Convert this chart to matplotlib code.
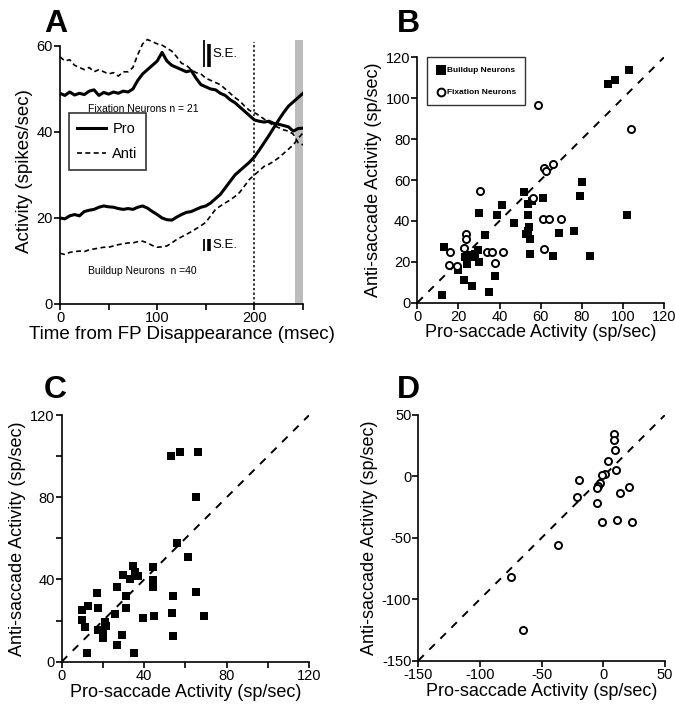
import numpy as np
import matplotlib.pyplot as plt

plt.rcParams['font.family'] = ['Liberation Sans', 'DejaVu Sans']
plt.rcParams['font.size'] = 10
plt.rcParams['axes.unicode_minus'] = False

# ---------------- datos panel A ----------------
t_ms = [0, 5, 10, 15, 20, 25, 30, 35, 40, 45, 50, 55, 60, 65, 70, 75, 80, 85, 90, 95,
        100, 105, 110, 115, 120, 125, 130, 135, 140, 145, 150, 155, 160, 165, 170, 175,
        180, 185, 190, 195, 200, 205, 210, 215, 220, 225, 230, 235, 240, 245, 250]

fix_pro = [49, 48.5, 49.3, 48.6, 49, 48.7, 49.5, 49.8, 48.5, 49.2, 48.8, 49.3, 49, 49.5,
           49.3, 50, 52, 53.5, 54.5, 55.5, 56.5, 58.5, 56.5, 55.5, 55, 54.5, 54, 54.3,
           52.5, 51, 50.5, 50, 49.8, 49, 48.5, 47.5, 46.8, 45.8, 44.8, 43.8, 42.8, 42.5,
           42.3, 42.5, 42, 41.8, 41.5, 41.2, 40.2, 40.8, 40.9]
fix_anti = [57.5, 56.5, 56.8, 55.5, 55, 54.5, 55, 54, 54.5, 54, 53.5, 53.8, 53, 54, 54,
            55, 58, 60.5, 61.5, 61, 60.5, 60.2, 59.5, 58.8, 57.5, 56, 55.5, 54.5, 53.8,
            53.5, 52.5, 52, 51.5, 51, 50, 49, 48, 47.2, 46, 45, 44.5, 43.8, 43, 42.2,
            41.5, 41, 40.5, 40.2, 39.5, 37.5, 37]
bu_pro = [20, 19.8, 20.5, 20.8, 20.5, 21.5, 21.8, 22, 22.5, 22.8, 22.6, 22.5, 22.2, 22,
          22.2, 22, 22.5, 22.8, 22.3, 21.5, 20.8, 20, 19.6, 19.5, 20.2, 20.8, 21.3, 21.5,
          22, 22.5, 22.8, 23.5, 24.5, 25.5, 27, 28.5, 30, 31, 32, 33, 34.2, 35.8, 37.5,
          39.2, 41, 42.8, 44.5, 46, 47, 48, 49]
bu_anti = [11.8, 11.5, 12, 12.2, 12.3, 12.2, 12.6, 12.8, 13, 13.2, 13.2, 13.5, 13.8, 14,
           14.2, 14.2, 14.5, 14.6, 14.2, 13.6, 13.2, 13.3, 13.5, 14.2, 15, 15.6, 16.2,
           16.8, 17.5, 18.2, 19, 20.5, 22, 22.8, 23.5, 24.2, 25, 26, 27.5, 29, 30, 31,
           32, 32.5, 33.2, 34, 35, 36, 37, 38.5, 39.8]

# barras de error estandar (x, y0, y1, grosor)
se_top = [(148.5, 55.2, 61.5, 1.3), (153.5, 55.2, 60.5, 2.6)]
se_bot = [(148.5, 12.4, 15.0, 1.3), (153.5, 12.4, 15.0, 2.6)]

# ---------------- datos panel B ----------------
bu_x = [12, 13, 20, 22.5, 26.5, 23, 25, 26.5, 24, 29.5, 30, 30, 33, 38, 35, 39, 41, 47,
        52, 54, 56, 61, 54, 54.5, 53, 55, 55, 66, 69, 76, 79, 80, 84, 102, 93, 96, 103,
        28, 54]
bu_y = [4, 27, 16, 11, 8, 22.5, 23.5, 22.5, 19, 26, 20, 44, 33, 13, 5, 43, 48, 39,
        54, 48.5, 49.5, 51, 43, 37, 33.5, 31, 24, 23, 34, 35, 52, 59, 23, 43, 107, 109, 114,
        24, 35]
fx_x = [30.5, 15.9, 15.6, 19.2, 23.7, 23.7, 22.7, 34, 36.2, 37.8, 41.8, 56.4, 61.6,
        66.2, 61, 64.2, 69.7, 61.6, 58.9, 103.8, 62.5]
fx_y = [54.8, 24.7, 18.4, 18, 33.6, 31.3, 26.6, 24.7, 24.7, 19.6, 24.7, 51.1, 65.8,
        67.9, 40.8, 40.8, 40.8, 26.1, 96.7, 84.8, 64.5]

# ---------------- datos panel C ----------------
c_x = [9.7, 12.9, 16.9, 17.8, 9.7, 11.3, 12.1, 17.8, 20.2, 21, 20.2, 26.7, 29.1, 25.8,
       26.7, 29.9, 31.2, 31.2, 33.1, 34.7, 35.5, 37.2, 35.2, 39.3, 44.1, 44.1, 44.1,
       44.7, 53.3, 54.1, 54.1, 53.2, 57.4, 66.2, 65.1, 56.1, 61.1, 65.3, 69.1, 21.5]
c_y = [25.1, 27.2, 33.2, 26.3, 20.3, 17, 4.4, 15.4, 13.8, 19.5, 11.4, 8.1, 13, 23.2,
       36.2, 42.2, 31.9, 26.3, 40, 46.5, 43.8, 41.7, 4.1, 21.1, 46.2, 39.7, 36.5,
       22.2, 23.8, 31.9, 12.5, 100, 102, 102, 79.9, 57.9, 51.1, 34.1, 22.2, 17.5]

# ---------------- datos panel D ----------------
d_x = [8.6, 8.6, 9.5, 4.1, 1.4, -1.4, 10.3, -2.7, -4.1, -5.4, -19.5, -21.6, -4.9,
       -1.4, 11.4, 23, 13.5, 21.1, -36.5, -74.9, -64.9]
d_y = [34.5, 29.6, 21.5, 12.8, 2, 1.2, 5.2, -5.6, -7.8, -9.7, -2.9, -16.5, -21.4,
       -36.8, -35.5, -36.8, -13.2, -8.3, -55.8, -81.6, -125]


def estilo(ax):
    ax.spines['top'].set_visible(False)
    ax.spines['right'].set_visible(False)
    for s in ['left', 'bottom']:
        ax.spines[s].set_linewidth(1.2)
    ax.tick_params(direction='out', length=4, width=1.2, labelsize=10.5, pad=1)


fig = plt.figure(figsize=(6.75, 7.19), dpi=100)

# ---------------- A ----------------
axA = fig.add_axes([0.0889, 0.5772, 0.36, 0.3708])
estilo(axA)
axA.axvspan(242, 250, ymin=0, ymax=61.5 / 62, color='#bcbcbc', lw=0)
axA.plot([200, 200], [0, 61], ls=(0, (1.5, 1.5)), color='k', lw=1.1)
axA.plot(t_ms, fix_pro, color='k', lw=2.2, label='Pro')
axA.plot(t_ms, fix_anti, color='k', lw=1.2, ls=(0, (3, 2)), label='Anti')
axA.plot(t_ms, bu_pro, color='k', lw=2.2)
axA.plot(t_ms, bu_anti, color='k', lw=1.2, ls=(0, (3, 2)))
for x, y0, y1, w in se_top + se_bot:
    axA.plot([x, x], [y0, y1], color='k', lw=w, solid_capstyle='butt')
axA.text(157, 58.2, 'S.E.', fontsize=9.5, va='center')
axA.text(157, 13.7, 'S.E.', fontsize=9.5, va='center')
axA.text(29, 45.3, 'Fixation Neurons n = 21', fontsize=7.5, va='center')
axA.text(29, 7.7, 'Buildup Neurons  n =40', fontsize=7.5, va='center')
axA.set_xlim(0, 250)
axA.set_ylim(0, 62)
axA.spines['left'].set_bounds(0, 60)
axA.set_xticks([0, 50, 100, 150, 200, 250])
axA.set_xticklabels(['0', '', '100', '', '200', ''])
axA.set_yticks([0, 20, 40, 60])
axA.set_xlabel('Time from FP Disappearance (msec)', fontsize=13.5, labelpad=1)
axA.set_ylabel('Activity (spikes/sec)', fontsize=13.5, labelpad=3)
leg = axA.legend(loc='upper left', bbox_to_anchor=(0.035, 0.715), fontsize=10.5,
                 frameon=True, fancybox=False, handlelength=2.0, borderpad=0.6,
                 labelspacing=0.75, handletextpad=0.4, borderaxespad=0)
leg.get_frame().set_edgecolor('k')
leg.get_frame().set_linewidth(1.2)

# ---------------- B ----------------
axB = fig.add_axes([0.6182, 0.579, 0.3655, 0.3413])
estilo(axB)
axB.plot([0, 120], [0, 120], color='k', lw=1.4, ls=(0, (4, 4)))
axB.scatter(bu_x, bu_y, marker='s', s=38, color='k', lw=0, label='Buildup Neurons',
            zorder=3)
axB.scatter(fx_x, fx_y, marker='o', s=26, facecolor='white', edgecolor='k', lw=1.4,
            label='Fixation Neurons', zorder=4)
axB.set_xlim(0, 120)
axB.set_ylim(0, 120)
axB.set_xticks(np.arange(0, 121, 20))
axB.set_yticks(np.arange(0, 121, 20))
axB.set_xlabel('Pro-saccade Activity (sp/sec)', fontsize=13, labelpad=0)
axB.set_ylabel('Anti-saccade Activity (sp/sec)', fontsize=13, labelpad=3)
legB = axB.legend(loc='upper left', bbox_to_anchor=(0.038, 1.0), fontsize=6,
                  frameon=True, fancybox=False, handletextpad=0.1, borderpad=1.1,
                  labelspacing=1.7, borderaxespad=0, markerscale=1.1,
                  handlelength=1.2)
legB.get_frame().set_edgecolor('k')
legB.get_frame().set_linewidth(1.0)
for txt in legB.get_texts():
    txt.set_fontweight('bold')

# ---------------- C ----------------
axC = fig.add_axes([0.0914, 0.0797, 0.3668, 0.3431])
estilo(axC)
axC.plot([0, 120], [0, 120], color='k', lw=1.4, ls=(0, (4, 4)))
axC.scatter(c_x, c_y, marker='s', s=38, color='k', lw=0, zorder=3)
axC.set_xlim(0, 120)
axC.set_ylim(0, 120)
axC.set_xticks(np.arange(0, 121, 20))
axC.set_xticklabels(['0', '', '40', '', '80', '', '120'])
axC.set_yticks(np.arange(0, 121, 20))
axC.set_yticklabels(['0', '', '40', '', '80', '', '120'])
axC.set_xlabel('Pro-saccade Activity (sp/sec)', fontsize=13, labelpad=1)
axC.set_ylabel('Anti-saccade Activity (sp/sec)', fontsize=13, labelpad=3)

# ---------------- D ----------------
axD = fig.add_axes([0.6197, 0.0812, 0.3655, 0.3417])
estilo(axD)
axD.plot([-150, 50], [-150, 50], color='k', lw=1.4, ls=(0, (4, 4)))
axD.scatter(d_x, d_y, marker='o', s=26, facecolor='white', edgecolor='k', lw=1.4,
            zorder=3)
axD.set_xlim(-150, 50)
axD.set_ylim(-150, 50)
axD.set_xticks([-150, -100, -50, 0, 50])
axD.set_yticks([-150, -100, -50, 0, 50])
axD.set_xlabel('Pro-saccade Activity (sp/sec)', fontsize=13, labelpad=1)
axD.set_ylabel('Anti-saccade Activity (sp/sec)', fontsize=13, labelpad=3)

# letras de panel
for letra, x, y in [('A', 0.065, 0.956), ('B', 0.588, 0.956), ('C', 0.065, 0.447),
                    ('D', 0.588, 0.447)]:
    fig.text(x, y, letra, fontsize=23, fontweight='bold', ha='left', va='baseline')

fig.savefig('out.png', dpi=100)
